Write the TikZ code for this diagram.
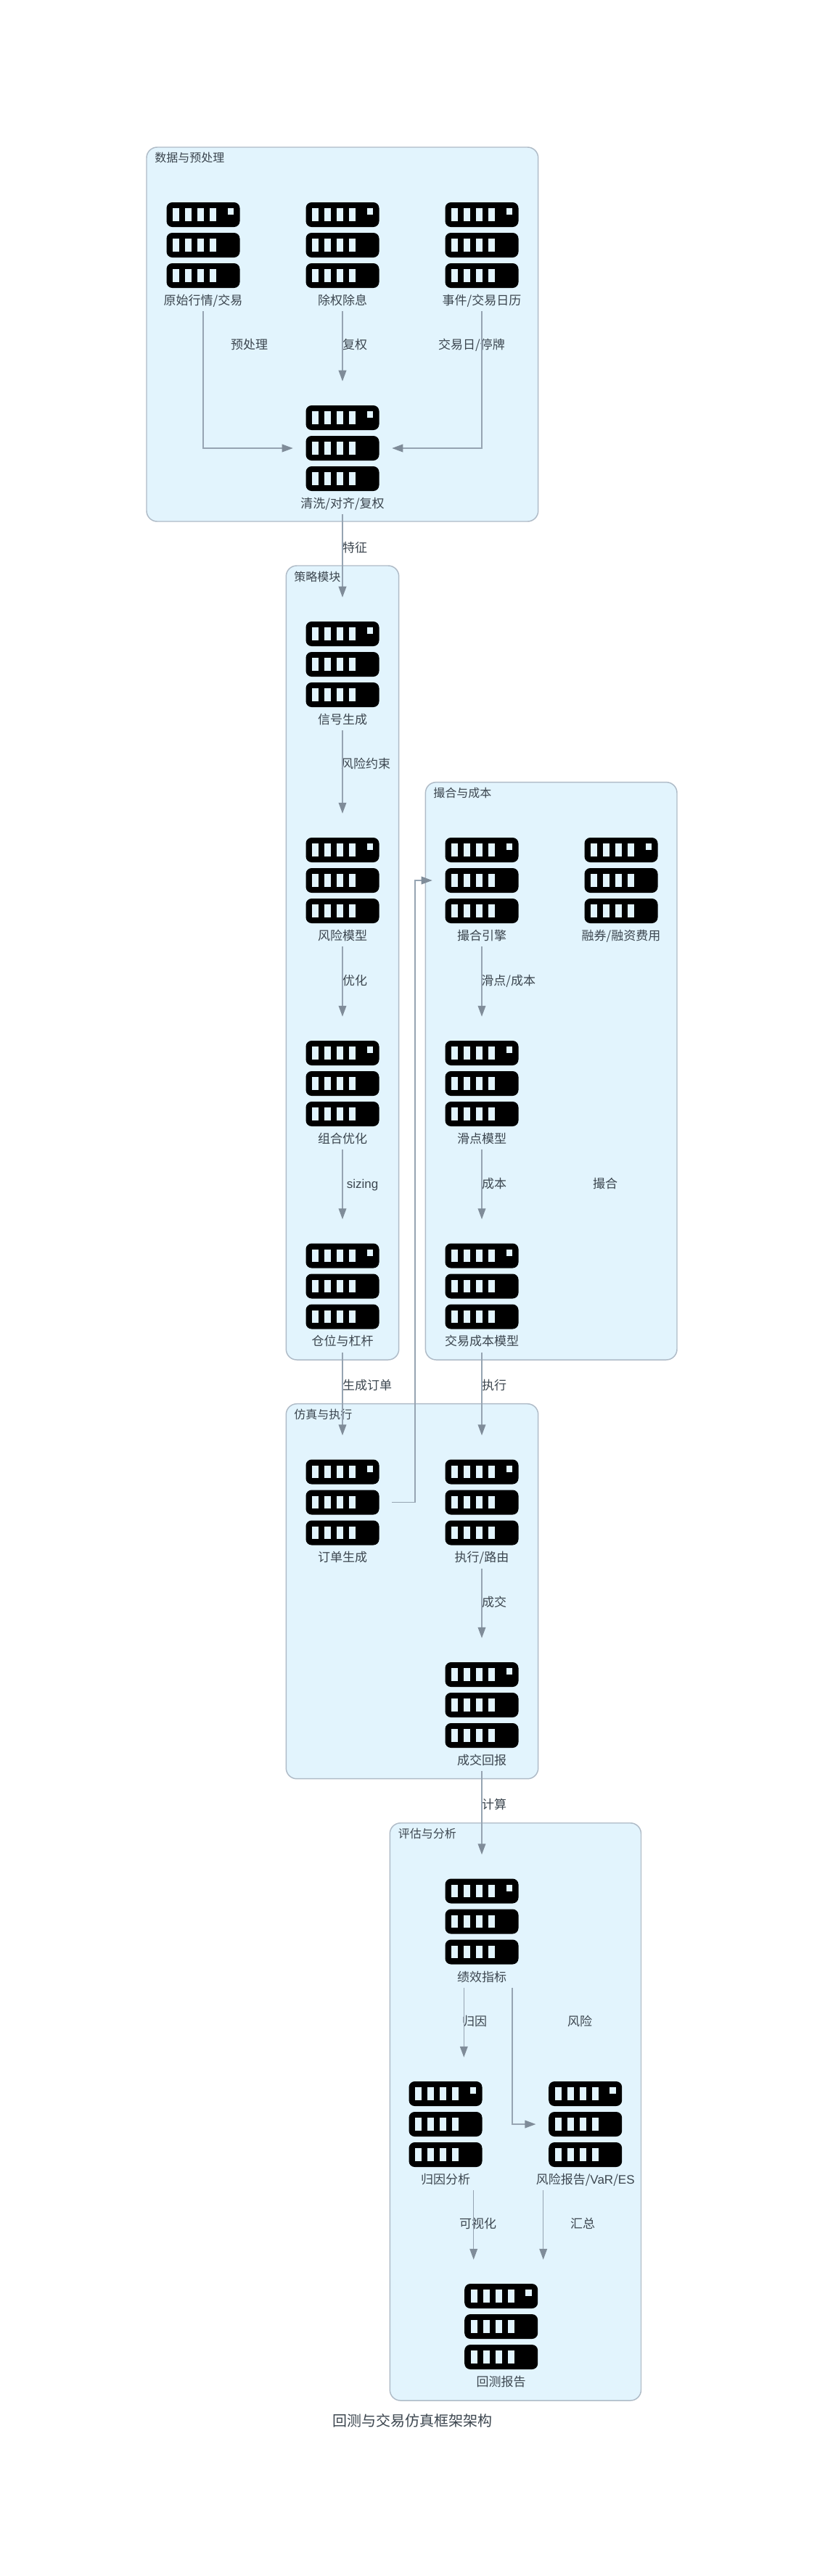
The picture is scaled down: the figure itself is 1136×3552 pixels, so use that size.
\documentclass[tikz,border=0pt]{standalone}
\usepackage{fontspec}
\setmainfont{Noto Sans CJK SC}
\newfontfamily\lat{Liberation Sans}
\usetikzlibrary{arrows.meta,calc}
\definecolor{groupfill}{HTML}{E2F4FD}
\definecolor{groupline}{HTML}{AFBBC7}
\definecolor{edgeline}{HTML}{96A4B2}
\definecolor{edgetip}{HTML}{7F8C99}
\definecolor{inktext}{HTML}{3C464F}
\tikzset{
  x=0.75pt,y=-0.75pt,
  groupbox/.style={draw=groupline,fill=groupfill,line width=1.1pt,rounded corners=11pt},
  grouptitle/.style={anchor=west,inner sep=0pt,text=inktext,font=\fontsize{12}{14}\selectfont,text height=11.6pt,text depth=2.5pt},
  edgelabel/.style={inner sep=0pt,text=inktext,font=\fontsize{12.75}{15}\selectfont,text height=12.4pt,text depth=2.7pt},
  nodelabel/.style={edgelabel,minimum height=22.5pt},
  iconbox/.style={inner sep=0pt,minimum width=102pt,minimum height=138pt},
  edge/.style={draw=edgeline,line width=1.15pt,-{Triangle[length=11.25pt,width=8pt,color=edgetip]}},
  servericon/.pic={
    \foreach \r in {0,42,84}{
      \fill[black,rounded corners=6pt] (-50.5,-59+\r) rectangle (50.5,-25+\r);
      \foreach \w in {0,17,34,51}{
        \fill[groupfill] (-42.1+\w,-50.7+\r) rectangle (-33.1+\w,-33.3+\r);
      }
    }
    \fill[groupfill] (33.5,-50.7) rectangle (42.2,-42);
  }
}
\newcommand{\srv}[4]{%
  \node[iconbox] (#1) at (#2,#3) {};
  \pic at (#1) {servericon};
  \node[nodelabel] (#1l) at ($(#1)+(0,76)$) {#4};
}
\begin{document}
\begin{tikzpicture}
\useasboundingbox (0,0) rectangle (1136,3552);
\fill[white] (0,0) rectangle (1136,3552);
% groups
\draw[groupbox] (202,203) rectangle (741.7,719);
\draw[groupbox] (394.3,780) rectangle (549.7,1875);
\draw[groupbox] (586.4,1078.6) rectangle (933,1875);
\draw[groupbox] (394.3,1935.7) rectangle (741.7,2452.7);
\draw[groupbox] (537.3,2513.7) rectangle (883.5,3310);
\node[grouptitle] (t1) at (213,217) {数据与预处理};
\node[grouptitle] (t2) at (405.2,795.7) {策略模块};
\node[grouptitle] (t3) at (597,1093.6) {撮合与成本};
\node[grouptitle] (t4) at (405.2,1950) {仿真与执行};
\node[grouptitle] (t5) at (548.5,2528) {评估与分析};
% servers
\srv{raw}{280}{338}{原始行情/交易}
\srv{div}{472}{338}{除权除息}
\srv{cal}{664}{338}{事件/交易日历}
\srv{clean}{472}{618}{清洗/对齐/复权}
\srv{sig}{472}{916}{信号生成}
\srv{risk}{472}{1214}{风险模型}
\srv{opt}{472}{1494}{组合优化}
\srv{pos}{472}{1773.5}{仓位与杠杆}
\srv{match}{664}{1214}{撮合引擎}
\srv{fin}{856}{1214}{融券/融资费用}
\srv{slip}{664}{1494}{滑点模型}
\srv{cost}{664}{1773.5}{交易成本模型}
\srv{order}{472}{2071.5}{订单生成}
\srv{exec}{664}{2071.5}{执行/路由}
\srv{fill}{664}{2351}{成交回报}
\srv{perf}{664}{2649.5}{绩效指标}
\srv{attr}{614}{2929}{归因分析}
\srv{rrep}{806.7}{2929}{风险报告/{\lat VaR}/{\lat ES}}
\srv{rep}{690.7}{3208}{回测报告}
% edge labels
\node[edgelabel] (e1) at (343.7,475) {预处理};
\node[edgelabel] (e2) at (489,475) {复权};
\node[edgelabel] (e3) at (650,475) {交易日/停牌};
\node[edgelabel] (e4) at (489,755) {特征};
\node[edgelabel] (e5) at (504,1052.7) {风险约束};
\node[edgelabel] (e6) at (489,1352) {优化};
\node[edgelabel] (e7) at (700.7,1352) {滑点/成本};
\node[edgelabel] (e8) at (499.6,1632) {\lat sizing};
\node[edgelabel] (e9) at (681,1632) {成本};
\node[edgelabel] (e10) at (834,1632) {撮合};
\node[edgelabel] (e11) at (506,1910) {生成订单};
\node[edgelabel] (e12) at (681,1910) {执行};
\node[edgelabel] (e13) at (681,2209) {成交};
\node[edgelabel] (e14) at (681,2488) {计算};
\node[edgelabel] (e15) at (654,2787) {归因};
\node[edgelabel] (e16) at (799,2787) {风险};
\node[edgelabel] (e17) at (658.7,3066) {可视化};
\node[edgelabel] (e18) at (803,3066) {汇总};
\node[inner sep=0pt,text=inktext,font=\fontsize{15}{18}\selectfont] (title) at (568,3338) {回测与交易仿真框架架构};
% routing guides
\coordinate (bus) at (572,0);
\coordinate (ax1) at (639.3,0);
\coordinate (ax2) at (706,0);
\coordinate (ax3) at (652.7,0);
\coordinate (ax4) at (748.7,0);
% connectors
\draw[edge] (rawl.south) |- (clean.west);
\draw[edge] (divl.south) -- (clean.north);
\draw[edge] (call.south) |- (clean.east);
\draw[edge] (cleanl.south) -- (sig.north);
\draw[edge] (sigl.south) -- (risk.north);
\draw[edge] (riskl.south) -- (opt.north);
\draw[edge] (optl.south) -- (pos.north);
\draw[edge] (posl.south) -- (order.north);
\draw[edge] (matchl.south) -- (slip.north);
\draw[edge] (slipl.south) -- (cost.north);
\draw[edge] (costl.south) -- (exec.north);
\draw[edge] (order.east) -- (order.east -| bus) -- (match.west -| bus) -- (match.west);
\draw[edge] (execl.south) -- (fill.north);
\draw[edge] (filll.south) -- (perf.north);
\draw[edge] (perfl.south -| ax1) -- (attr.north -| ax1);
\draw[edge] (perfl.south -| ax2) |- (rrep.west);
\draw[edge] (attrl.south -| ax3) -- (rep.north -| ax3);
\draw[edge] (rrepl.south -| ax4) -- (rep.north -| ax4);
\end{tikzpicture}
\end{document}
